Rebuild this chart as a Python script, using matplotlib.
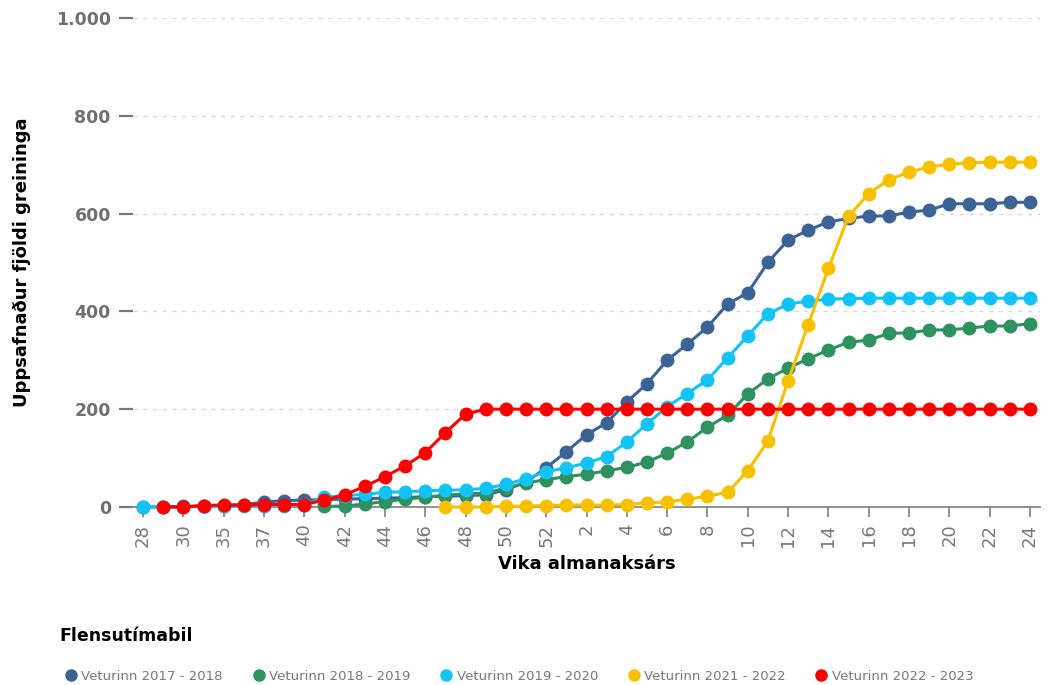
import numpy as np
import matplotlib
matplotlib.use("Agg")
import matplotlib.pyplot as plt
from matplotlib.lines import Line2D

nan = np.nan

# week categories (x axis)
weeks = [28, 29, 30, 34, 35, 36, 37, 39] + list(range(40, 53)) + list(range(1, 25))

s2017 = [0, 0, 1, 2, 3, 5, 10, 13, 14, 15, 16, 17, 18, 19, 21, 22, 23, 25, 35, 51,
         80, 113, 148, 172, 215, 252, 300, 333, 368, 415, 438, 500, 546, 566, 583,
         590, 595, 595, 603, 607, 620, 620, 620, 623, 623]
s2018 = [nan] * 9 + [1, 2, 6, 11, 16, 20, 24, 27, 28, 39, 49, 56, 62, 67, 74, 81,
         92, 110, 133, 163, 188, 231, 262, 284, 303, 321, 337, 341, 355, 356, 362,
         362, 366, 370, 370, 375]
s2019 = [0, 0, 0, 1, 1, 2, 2, 3, 4, 20, 23, 26, 30, 31, 33, 34, 35, 38, 46, 58,
         72, 80, 90, 103, 133, 170, 205, 232, 260, 305, 350, 395, 415, 421, 425,
         426, 427, 427, 427, 427, 427, 427, 427, 427, 427]
s2021 = [nan] * 15 + [0, 0, 0, 1, 2, 3, 4, 4, 4, 5, 9, 10, 16, 22, 30, 74, 135,
         258, 373, 488, 594, 641, 669, 685, 695, 701, 704, 705, 705, 705]
s2022 = [nan, 0, 0, 3, 4, 4, 5, 5, 5, 14, 25, 42, 62, 84, 111, 152, 190] + [200] * 28

names = ["Veturinn 2017 - 2018", "Veturinn 2018 - 2019", "Veturinn 2019 - 2020",
         "Veturinn 2021 - 2022", "Veturinn 2022 - 2023"]
series = [s2017, s2018, s2019, s2021, s2022]
colors = ["#3b6396", "#2e9160", "#12c4f5", "#f8c100", "#ff0000"]

fig = plt.figure(figsize=(10.48, 6.85), dpi=100)
ax = fig.add_axes([0.1269, 0.2599, 0.8655, 0.7139])

x = np.arange(len(weeks))
for vals, c, n in zip(series, colors, names):
    ax.plot(x, vals, color=c, lw=2.2, marker="o", ms=9, mec=c, label=n,
            clip_on=False, zorder=3)

ax.set_xlim(-0.5, len(weeks) - 0.5)
ax.set_ylim(0, 1000)
ax.set_yticks([0, 200, 400, 600, 800, 1000])
ax.set_yticklabels(["0", "200", "400", "600", "800", "1.000"])
ax.set_xticks(x[::2])
ax.set_xticklabels([str(w) for w in weeks[::2]], rotation=90)

ax.grid(axis="y", color="#d8d8d8", ls=(0, (3, 4)), lw=1)
ax.set_axisbelow(True)
for s in ["left", "right", "top"]:
    ax.spines[s].set_visible(False)
ax.spines["bottom"].set_color("#888888")
ax.spines["bottom"].set_linewidth(1.3)

ax.tick_params(axis="y", length=10, width=1.6, color="#777777", pad=6,
               labelsize=12.5, labelcolor="#707070")
for t in ax.get_yticklabels():
    t.set_fontweight("bold")
ax.tick_params(axis="x", length=7, width=1.3, color="#888888", pad=5,
               labelsize=13, labelcolor="#777777")

ax.set_xlabel("Vika almanaksárs", fontsize=13, fontweight="bold", labelpad=6)
ax.set_ylabel("Uppsafnaður fjöldi greininga", fontsize=13, fontweight="bold", labelpad=18)

fig.text(0.057, 1 - 636 / 685, "Flensutímabil", fontsize=12.5, fontweight="bold",
         va="center")

handles = [Line2D([], [], ls="none", marker="o", ms=8, color=c) for c in colors]
leg = fig.legend(handles, names, loc="center left", bbox_to_anchor=(0.05, 1 - 676 / 685),
                 ncol=5, frameon=False, handletextpad=0.3, columnspacing=2.2,
                 handlelength=1.0, prop={"size": 9.5})
for t in leg.get_texts():
    t.set_color("#777777")

fig.savefig("out.png", dpi=100)
